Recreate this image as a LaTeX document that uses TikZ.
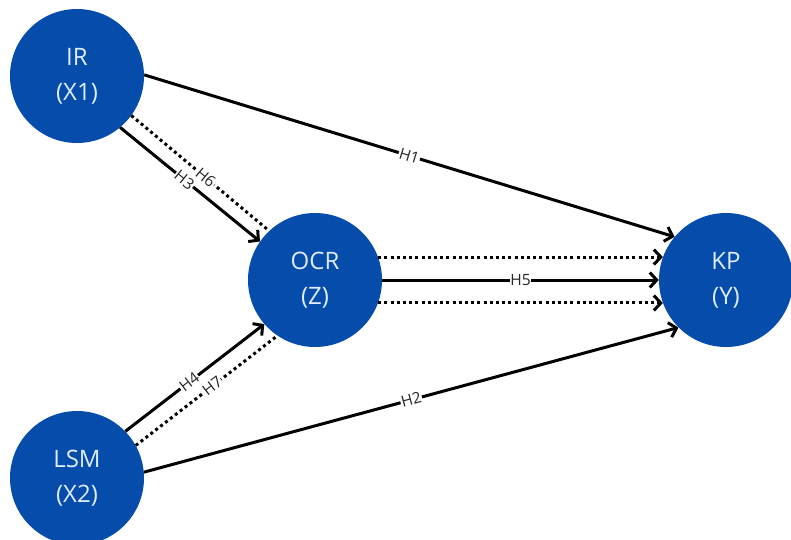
\documentclass[tikz,border=0pt]{standalone}
\usepackage{fontspec}
\setmainfont{Open Sans}
\usetikzlibrary{arrows.meta, positioning}

\definecolor{varblue}{RGB}{6,76,171}
\definecolor{vartext}{RGB}{222,236,252}

\begin{document}
\begin{tikzpicture}[
    x=1pt, y=-1pt,
    on grid,
    var/.style={circle, fill=varblue, minimum size=134pt, inner sep=0pt,
        text=vartext, align=center, font=\fontsize{24}{35}\selectfont},
    hyp/.style={-{Straight Barb[length=7pt, width=15pt]}, line width=3pt},
    dot/.style={line width=3pt, dash pattern=on 3pt off 3.2pt},
    lbl/.style={fill=white, inner sep=0.8pt, sloped, text=black!85,
        font=\fontsize{15.5}{15.5}\selectfont}
]

\useasboundingbox (0,0) rectangle (791,539);

\node[var] (IR) at (77,76) {IR\\(X1)};
\node[var] (OCR) [below right=204pt and 238pt of IR] {OCR\\(Z)};
\node[var] (KP) [right=411pt of OCR] {KP\\(Y)};
\node[var] (LSM) [below=402pt of IR] {LSM\\(X2)};

\path[hyp]
    (IR.1) edge node[lbl] {H1} (KP.140)
    (LSM.5) edge node[lbl] {H2} (KP.225)
    (IR.-50) edge node[lbl, pos=0.46] {H3} (OCR.145)
    (LSM.44) edge node[lbl, pos=0.46] {H4} (OCR.221)
    (OCR.0) edge node[lbl] {H5} (KP.180)
    (OCR.20) edge[dot] (KP.160)
    (OCR.-20) edge[dot] (KP.-160)
    (IR.-36) edge[dot, -] node[lbl, pos=0.54] {H6} (OCR.133)
    (LSM.29) edge[dot, -] node[lbl, pos=0.54] {H7} (OCR.236)
    ;

\end{tikzpicture}
\end{document}
